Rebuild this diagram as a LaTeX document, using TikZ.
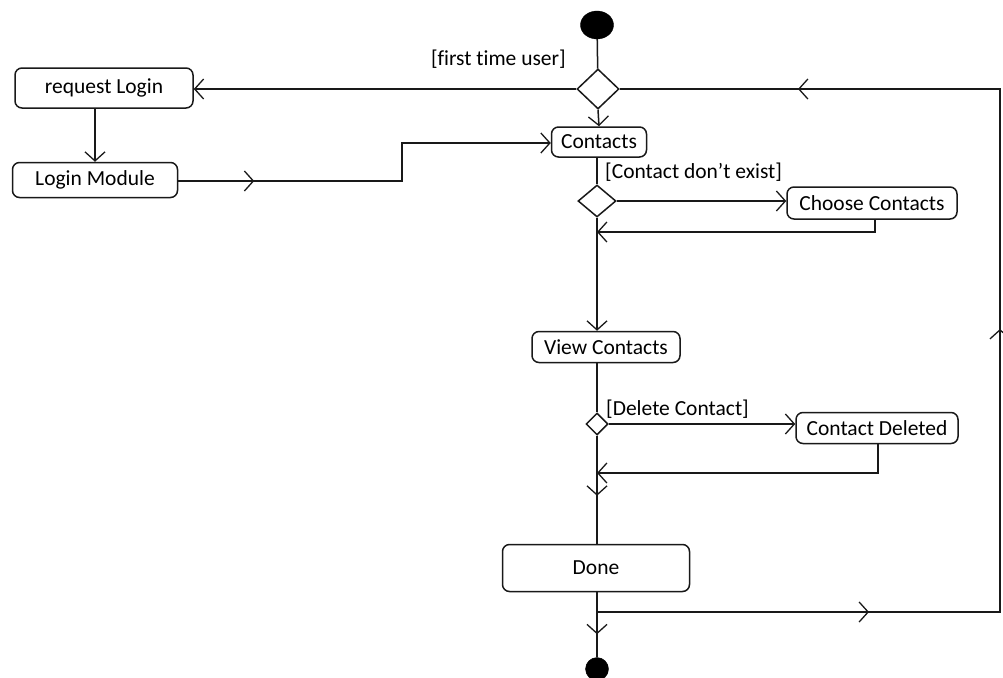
\documentclass[tikz,border=0pt]{standalone}
\usepackage{fontspec}
\setmainfont{Carlito}[Ligatures={NoCommon}]
\usetikzlibrary{arrows.meta,shapes.geometric,decorations.markings}
\begin{document}
\begin{tikzpicture}[x=1pt,y=-1pt,
  chev/.tip={Straight Barb[length=9pt,width=20pt,line width=1.3pt]},
  flow/.style={draw=black!90, line width=1.5pt},
  act/.style={draw=black!90, line width=1.5pt, rounded corners=7pt, inner sep=0pt,
    font=\fontsize{21.5}{24}\selectfont},
  dec/.style={diamond, draw=black!90, line width=1.5pt, inner sep=0pt, fill=white},
  guard/.style={inner sep=0pt, font=\fontsize{21.5}{24}\selectfont},
  dot/.style={fill=black, draw=black, inner sep=0pt},
  midtip/.style={postaction={decorate},
    decoration={markings, mark=at position #1 with {\arrow{chev}}}},
]
% canvas
\useasboundingbox (0,0) rectangle (1003,677);
\fill[white] (0,0) rectangle (1003,677);

% initial and final states
\node[dot, ellipse, minimum width=33pt, minimum height=28pt] (start) at (597,25) {};
\node[dot, circle, minimum size=23pt] (finish) at (597,669) {};

% decisions
\node[dec, minimum width=42pt, minimum height=40pt] (d1) at (598,89) {};
\node[dec, minimum width=38pt, minimum height=32pt] (d2) at (597,201) {};
\node[dec, minimum width=22pt, minimum height=22pt] (d3) at (597,424) {};

% activities
\node[act, minimum width=178pt, minimum height=40pt] (req) at (104,88) {request Login};
\node[act, minimum width=165pt, minimum height=35pt] (login) at (95,180) {Login Module};
\node[act, minimum width=95pt, minimum height=30pt] (contacts) at (599,142) {Contacts};
\node[act, minimum width=170pt, minimum height=32pt] (choose) at (872,203) {Choose Contacts};
\node[act, minimum width=148pt, minimum height=31pt] (view) at (606,347) {View Contacts};
\node[act, minimum width=162pt, minimum height=31pt] (deleted) at (877,428) {Contact Deleted};
\node[act, minimum width=187pt, minimum height=47pt] (done) at (596,568) {Done};

% guards
\node[guard, anchor=east] (g1) at (566,59) {[first time user]};
\node[guard, anchor=west] (g2) at (605,172) {[Contact don't exist]};
\node[guard, anchor=west] (g3) at (606,409) {[Delete Contact]};

% merge points on the main spine
\coordinate (m1) at (597,232);
\coordinate (m2) at (597,473);
\coordinate (m3) at (597,612);
\coordinate (r1) at (1000,612);
\coordinate (r2) at (1000,89);
\coordinate (k1) at (402,181);
\coordinate (k2) at (402,143);

% connectors
\draw[flow] (start) -- (d1);
\draw[flow, -chev] (d1.west) -- (d1.west -| req.east);
\draw[flow, -chev] (d1.south) -- (contacts.north);
\draw[flow, -chev] (req.south -| login.north) -- (login.north);
\draw[flow, -chev, midtip=76pt] (login.east |- k1) -- (k1) -- (k2) -- (contacts.west |- k2);
\draw[flow] (contacts.south -| d2.north) -- (d2.north);
\draw[flow, -chev] (d2.east) -- (d2.east -| choose.west);
\draw[flow, -chev] (choose.south -| 875,0) -- (875,232) -- (m1);
\draw[flow, -chev] (d2.south) -- (d2.south |- view.north);
\draw[flow] (view.south -| d3.north) -- (d3.north);
\draw[flow, -chev] (d3.east) -- (d3.east -| deleted.west);
\draw[flow, -chev] (deleted.south -| 878,0) -- (878,473) -- (m2);
\draw[flow, midtip=60pt] (d3.south) -- (d3.south |- done.north);
\draw[flow, midtip=42pt] (done.south -| finish.north) -- (finish.north);
\draw[flow, postaction={decorate}, decoration={markings,
    mark=at position 272pt with {\arrow{chev}},
    mark=at position 686pt with {\arrow{chev}},
    mark=at position 1128pt with {\arrow{chev}}}]
  (m3) -- (r1) -- (r2) -- (d1.east);
\end{tikzpicture}
\end{document}
